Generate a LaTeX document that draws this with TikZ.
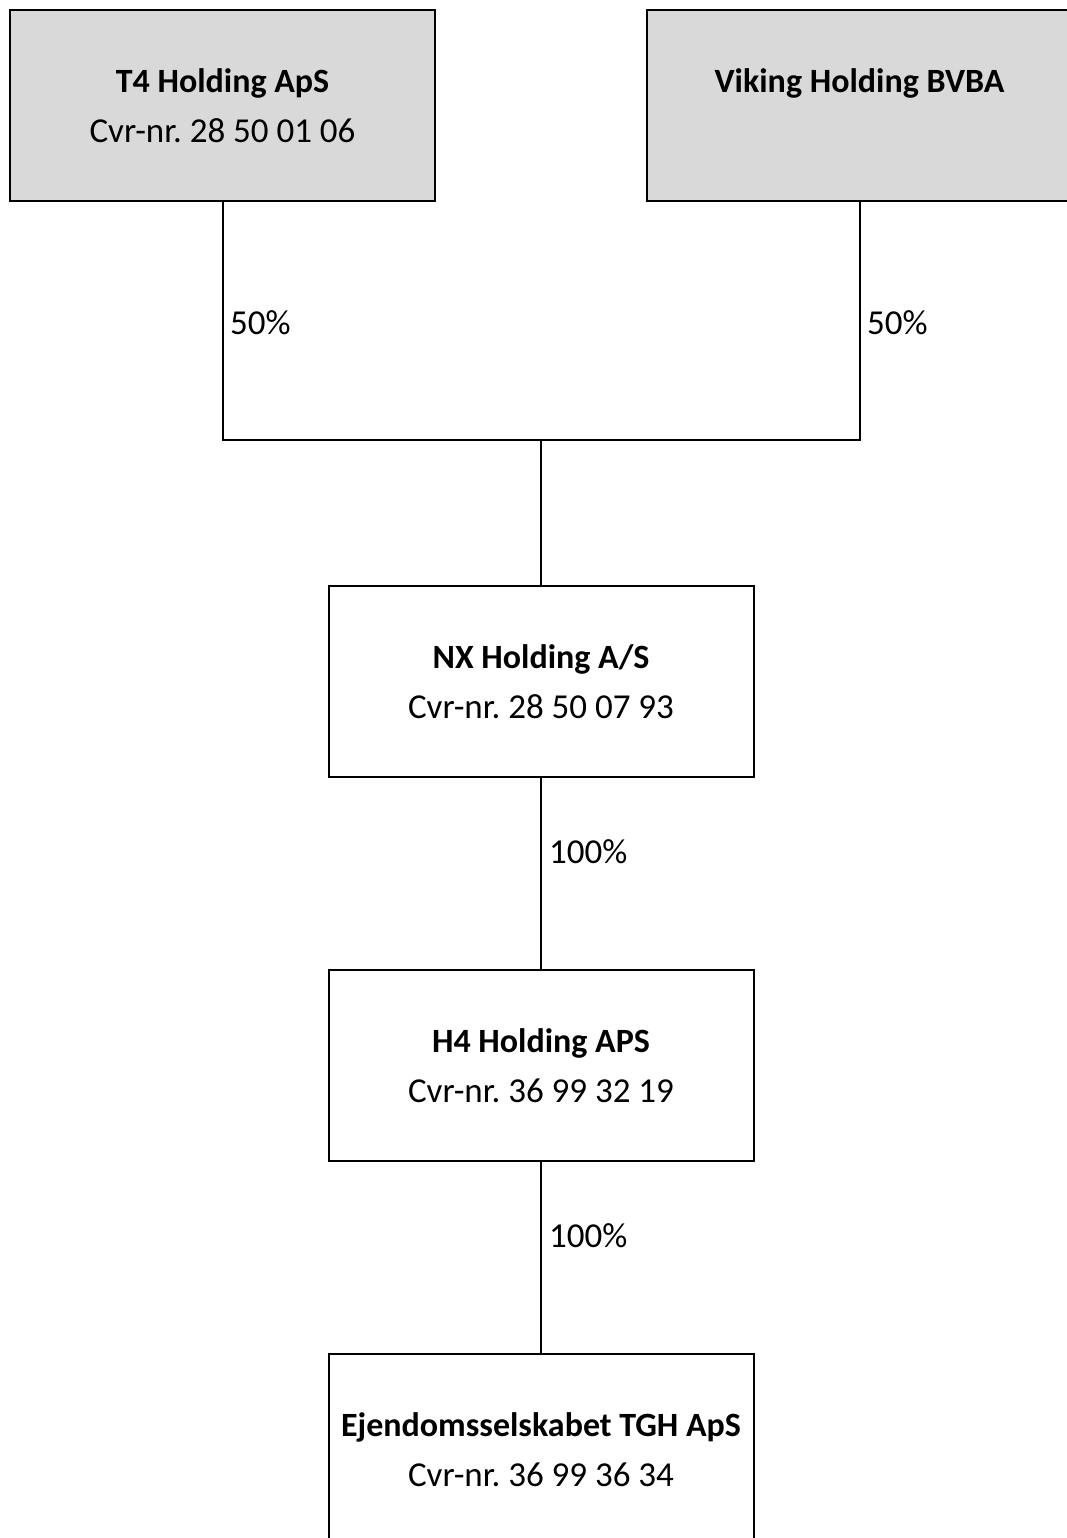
\documentclass[tikz,border=0pt]{standalone}
\usepackage{fontspec}
\setmainfont{Carlito}
\frenchspacing
\begin{document}
\begin{tikzpicture}[x=1pt,y=-1pt,
  box/.style={draw=black,line width=2pt,minimum width=425pt,minimum height=191pt,inner sep=0pt,outer sep=0pt},
  grey/.style={box,fill=boxgrey},
  title/.style={font=\fontsize{34}{40}\selectfont\bfseries,inner sep=0pt,anchor=center},
  cvr/.style={font=\fontsize{35}{40}\selectfont,inner sep=0pt,anchor=center},
  pct/.style={font=\fontsize{35}{40}\selectfont,inner sep=0pt,anchor=west},
  conn/.style={draw=black,line width=2pt}]
\definecolor{boxgrey}{HTML}{D9D9D9}
\useasboundingbox (0,0) rectangle (1067,1538);
\clip (0,0) rectangle (1067,1538);
\node[grey] (t4) at (222.5,105.5) {};
\node[grey] (vk) at (859.5,105.5) {};
\node[box] (nx) at (541,681.5) {};
\node[box] (h4) at (541,1065.5) {};
\node[box] (ej) at (541,1449.5) {};
\node[title] (t4t) at (222.5,83) {T4 Holding ApS};
\node[cvr] (t4c) at (222.5,131) {Cvr-nr. 28 50 01 06};
\node[title] (vkt) at (859.5,83) {Viking Holding BVBA};
\node[title] (nxt) at (541,659) {NX Holding A/S};
\node[cvr] (nxc) at (541,707) {Cvr-nr. 28 50 07 93};
\node[title] (h4t) at (541,1043) {H4 Holding APS};
\node[cvr] (h4c) at (541,1091) {Cvr-nr. 36 99 32 19};
\node[title] (ejt) at (541,1427) {Ejendomsselskabet TGH ApS};
\node[cvr] (ejc) at (541,1475) {Cvr-nr. 36 99 36 34};
\coordinate (jl) at (222.5,440);
\coordinate (jr) at (859.5,440);
\coordinate (jm) at (541,440);
\draw[conn] (t4.south) -- (jl) -- (jr) -- (vk.south);
\draw[conn] (jm) -- (nx.north);
\draw[conn] (nx.south) -- (h4.north);
\draw[conn] (h4.south) -- (ej.north);
\node[pct] (p1) at (230,323) {50\%};
\node[pct] (p2) at (867,323) {50\%};
\node[pct] (p3) at (549,852) {100\%};
\node[pct] (p4) at (549,1236) {100\%};
\end{tikzpicture}
\end{document}
